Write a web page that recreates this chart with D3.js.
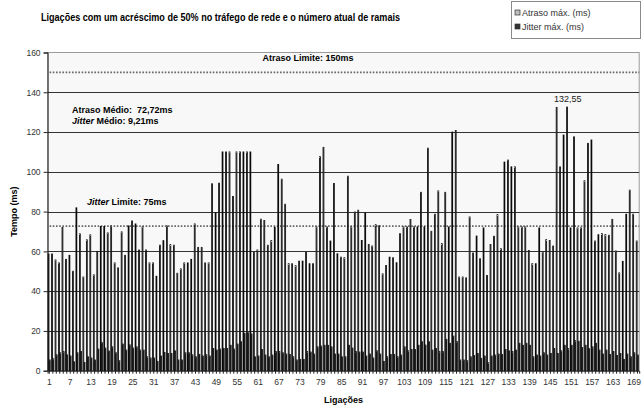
<!DOCTYPE html>
<html>
<head>
<meta charset="utf-8">
<script src="https://cdn.jsdelivr.net/npm/d3@7/dist/d3.min.js"></script>
<style>
    body { margin: 0; background: #ffffff; }
    svg text { font-family: "Liberation Sans", Arial, sans-serif; }
</style>
</head>
<body>
<script>

// ----- Data -----
const ligacoes = d3.range(1, 171);

const atrasoMax = [
    58.7, 58.7, 55.7, 54.2, 72.0, 56.0, 58.0, 50.0, 81.9, 68.8,
    47.1, 65.8, 68.3, 48.2, 60.0, 72.5, 72.5, 69.3, 72.8, 54.2,
    51.7, 69.8, 58.0, 72.8, 75.3, 73.8, 60.7, 72.3, 60.7, 54.2,
    54.2, 47.5, 63.1, 65.4, 72.8, 63.4, 63.1, 49.0, 51.2, 54.2,
    54.2, 56.0, 73.8, 62.0, 62.0, 54.2, 54.2, 94.0, 79.5, 94.3,
    110.0, 110.0, 110.0, 87.6, 110.0, 110.0, 110.0, 110.0, 110.0, 59.4,
    60.7, 76.2, 75.5, 63.1, 65.4, 72.1, 103.7, 96.3, 83.7, 53.8,
    53.8, 52.8, 55.1, 55.1, 59.5, 53.8, 53.8, 72.3, 107.6, 112.3,
    72.3, 65.2, 94.1, 58.8, 57.1, 56.8, 97.8, 72.3, 79.8, 80.7,
    65.5, 79.3, 63.5, 62.7, 73.4, 72.9, 48.7, 52.9, 57.1, 56.8,
    54.3, 68.9, 72.3, 72.3, 76.0, 72.3, 72.3, 89.7, 72.3, 111.9,
    70.1, 78.7, 90.4, 63.9, 89.7, 72.3, 120.0, 120.8, 47.1, 47.1,
    46.7, 77.3, 59.2, 67.7, 56.3, 71.8, 47.9, 63.5, 67.6, 78.5,
    61.3, 104.9, 105.9, 102.5, 102.5, 72.3, 72.3, 72.3, 60.5, 53.8,
    53.8, 71.8, 59.7, 65.9, 65.5, 62.7, 132.4, 102.5, 118.5, 132.55,
    71.8, 117.6, 71.8, 71.8, 95.5, 114.3, 116.0, 65.2, 68.4, 68.9,
    68.4, 68.1, 76.1, 60.2, 49.2, 55.0, 78.7, 90.8, 78.7, 65.2
];

const jitterMax = [
    5.4, 6.0, 8.0, 9.0, 9.6, 8.0, 7.4, 4.5, 9.0, 9.7,
    4.2, 7.0, 6.4, 5.4, 10.9, 14.1, 11.4, 9.9, 12.0, 9.0,
    5.0, 13.4, 10.4, 13.0, 11.4, 12.0, 10.4, 10.4, 7.0, 6.4,
    6.4, 4.7, 7.4, 9.2, 8.7, 8.7, 10.0, 5.4, 5.4, 9.0,
    9.0, 8.0, 7.0, 8.2, 7.4, 8.0, 7.4, 11.2, 10.4, 10.9,
    11.2, 11.2, 12.8, 10.9, 13.4, 14.6, 18.8, 19.1, 18.5, 7.0,
    7.4, 10.7, 7.9, 7.0, 7.9, 9.6, 9.6, 9.0, 8.4, 8.2,
    7.0, 5.4, 5.7, 5.7, 9.6, 9.4, 8.4, 12.0, 12.4, 12.8,
    12.8, 12.0, 8.4, 8.4, 7.0, 7.0, 12.8, 11.4, 9.6, 9.4,
    9.4, 7.4, 8.4, 6.4, 10.0, 8.4, 4.7, 7.0, 8.2, 8.2,
    7.0, 7.9, 12.0, 10.0, 10.7, 10.7, 12.8, 14.6, 12.9, 14.6,
    10.4, 11.2, 9.6, 9.6, 15.8, 13.8, 17.4, 14.6, 5.4, 5.4,
    5.0, 7.0, 7.7, 8.7, 6.2, 7.4, 4.0, 7.4, 7.9, 8.4,
    8.2, 10.7, 10.0, 9.6, 10.4, 13.8, 12.8, 13.8, 12.8, 7.0,
    7.9, 7.4, 9.0, 7.9, 8.7, 11.2, 8.7, 10.0, 12.8, 11.1,
    12.8, 15.1, 14.8, 11.7, 12.8, 11.1, 12.0, 13.8, 10.4, 8.4,
    10.4, 8.1, 9.7, 7.7, 8.7, 5.7, 8.4, 7.0, 9.0, 7.9
];

const yTicks = [0, 20, 40, 60, 80, 100, 120, 140, 160];
const xTickLabels = ligacoes.filter(d => (d - 1) % 6 === 0);

const atrasoLimite = 150;
const atrasoMedio = 72.72;
const jitterMedio = 9.21;
const jitterLimite = 75;

// ----- Sizes -----
const width = 644, height = 408;
const plotLeft = 47.6, plotRight = 639.2;
const plotTop = 52.5, plotBottom = 370.7;

const svg = d3.select("body")
    .append("svg")
    .attr("width", width)
    .attr("height", height);

//X Axis (one band per call)
let x = d3.scaleBand()
    .domain(ligacoes)
    .range([plotLeft, plotRight])
    .paddingInner(0.3)
    .paddingOuter(0.15);

let xSub = d3.scaleBand()
    .domain(["atraso", "jitter"])
    .range([0, x.bandwidth()]);

//Y Axis
let y = d3.scaleLinear()
    .domain([0, 160])
    .range([plotBottom, plotTop]);

// plot background
svg.append("rect")
    .attr("x", plotLeft)
    .attr("y", plotTop)
    .attr("width", plotRight - plotLeft)
    .attr("height", plotBottom - plotTop)
    .attr("fill", "#f8f8f8")
    .attr("stroke", "#9a9a9a")
    .attr("stroke-width", 1);

// gridlines
svg.selectAll(".grid")
    .data(yTicks.filter(t => t > 0 && t < 160))
    .enter()
    .append("line")
    .attr("class", "grid")
    .attr("x1", plotLeft)
    .attr("x2", plotRight)
    .attr("y1", d => Math.round(y(d)) + 0.5)
    .attr("y2", d => Math.round(y(d)) + 0.5)
    .attr("stroke", "#333333")
    .attr("stroke-width", 1);

// dotted reference lines (limite 150 and média 72,72)
svg.selectAll(".refLine")
    .data([atrasoLimite, atrasoMedio])
    .enter()
    .append("line")
    .attr("class", "refLine")
    .attr("x1", plotLeft + 2)
    .attr("x2", plotRight)
    .attr("y1", d => y(d))
    .attr("y2", d => y(d))
    .attr("stroke", "#666666")
    .attr("stroke-width", 1.6)
    .attr("stroke-dasharray", "1.6,1.6");

// Atraso bars
svg.selectAll(".atraso")
    .data(ligacoes)
    .enter()
    .append("rect")
    .attr("class", "atraso")
    .attr("x", d => x(d) + xSub("atraso"))
    .attr("y", (d, i) => y(atrasoMax[i]))
    .attr("width", xSub.bandwidth() * 0.7)
    .attr("height", (d, i) => y(0) - y(atrasoMax[i]))
    .attr("fill", "#a0a0a0")
    .attr("stroke", "#0a0a0a")
    .attr("stroke-width", 0.85);

// Jitter bars
svg.selectAll(".jitter")
    .data(ligacoes)
    .enter()
    .append("rect")
    .attr("class", "jitter")
    .attr("x", d => x(d) + xSub("jitter"))
    .attr("y", (d, i) => y(jitterMax[i]))
    .attr("width", xSub.bandwidth() * 0.7)
    .attr("height", (d, i) => y(0) - y(jitterMax[i]))
    .attr("fill", "#333333")
    .attr("stroke", "#0a0a0a")
    .attr("stroke-width", 0.8);

// left y axis
svg.append("g")
    .attr("class", "yaxis")
    .attr("transform", "translate(" + plotLeft + ",0)")
    .call(d3.axisLeft(y).tickValues(yTicks).tickSize(4).tickPadding(3))
    .call(g => g.selectAll("text").attr("font-size", "8.5px").attr("fill", "#333"))
    .call(g => g.selectAll("line, path").attr("stroke", "#222"));

// bottom axis
svg.append("g")
    .attr("class", "xaxis")
    .attr("transform", "translate(0," + plotBottom + ")")
    .call(d3.axisBottom(x)
        .tickValues(ligacoes)
        .tickSize(3)
        .tickPadding(5)
        .tickFormat(d => xTickLabels.includes(d) ? d : ""))
    .call(g => g.selectAll("text").attr("font-size", "8.5px").attr("fill", "#333"))
    .call(g => g.selectAll("line, path").attr("stroke", "#222"));

// ----- Title, axis labels -----
svg.append("text")
    .attr("x", 41)
    .attr("y", 21)
    .attr("font-size", "11.5px")
    .attr("font-weight", "bold")
    .attr("textLength", 359)
    .attr("lengthAdjust", "spacingAndGlyphs")
    .text("Ligações com um acréscimo de 50% no tráfego de rede e o número atual de ramais");

svg.append("text")
    .attr("x", (plotLeft + plotRight) / 2)
    .attr("y", 403)
    .attr("text-anchor", "middle")
    .attr("font-size", "9px")
    .attr("font-weight", "bold")
    .text("Ligações");

svg.append("text")
    .attr("transform", "translate(17," + ((plotTop + plotBottom) / 2) + ") rotate(-90)")
    .attr("text-anchor", "middle")
    .attr("font-size", "9px")
    .attr("font-weight", "bold")
    .text("Tempo (ms)");

// ----- Annotations -----
svg.append("text")
    .attr("x", 308)
    .attr("y", y(157) + 3)
    .attr("text-anchor", "middle")
    .attr("font-size", "9px")
    .attr("font-weight", "bold")
    .text("Atraso Limite: " + atrasoLimite + "ms");

svg.append("text")
    .attr("x", 72)
    .attr("y", y(131) + 3)
    .attr("font-size", "9px")
    .attr("font-weight", "bold")
    .attr("xml:space", "preserve")
    .text("Atraso Médio:  " + String(atrasoMedio).replace(".", ",") + "ms");

let jm = svg.append("text")
    .attr("x", 72)
    .attr("y", y(125.5) + 3)
    .attr("font-size", "9px")
    .attr("font-weight", "bold");
jm.append("tspan").attr("font-style", "italic").text("Jitter");
jm.append("tspan").text(" Médio: " + String(jitterMedio).replace(".", ",") + "ms");

let jl = svg.append("text")
    .attr("x", 87)
    .attr("y", y(85) + 3)
    .attr("font-size", "9px")
    .attr("font-weight", "bold");
jl.append("tspan").attr("font-style", "italic").text("Jitter");
jl.append("tspan").text(" Limite: " + jitterLimite + "ms");

// value label on the highest bar
const maxIndex = d3.maxIndex(atrasoMax);
svg.append("text")
    .attr("x", x(ligacoes[maxIndex]) + xSub("atraso") + 1)
    .attr("y", y(atrasoMax[maxIndex]) - 5)
    .attr("text-anchor", "middle")
    .attr("font-size", "9px")
    .attr("fill", "#222")
    .text(String(atrasoMax[maxIndex]).replace(".", ","));

// ----- Legend -----
const legendItems = [
    { name: "Atraso máx. (ms)", fill: "#bdbdbd" },
    { name: "Jitter máx. (ms)", fill: "#333333" }
];

const legend = svg.append("g")
    .attr("transform", "translate(511,1)");

legend.append("rect")
    .attr("x", 0.5)
    .attr("y", 0.5)
    .attr("width", 129)
    .attr("height", 37)
    .attr("fill", "#ffffff")
    .attr("stroke", "#8a8a8a");

legend.selectAll(".legItem")
    .data(legendItems)
    .enter()
    .append("rect")
    .attr("class", "legItem")
    .attr("x", 4)
    .attr("y", (d, i) => 9 + i * 14)
    .attr("width", 5)
    .attr("height", 5)
    .attr("fill", d => d.fill)
    .attr("stroke", "#333")
    .attr("stroke-width", 0.7);

legend.selectAll(".legText")
    .data(legendItems)
    .enter()
    .append("text")
    .attr("class", "legText")
    .attr("x", 11)
    .attr("y", (d, i) => 15 + i * 14)
    .attr("font-size", "9px")
    .attr("fill", "#333")
    .text(d => d.name);

</script>
</body>
</html>
